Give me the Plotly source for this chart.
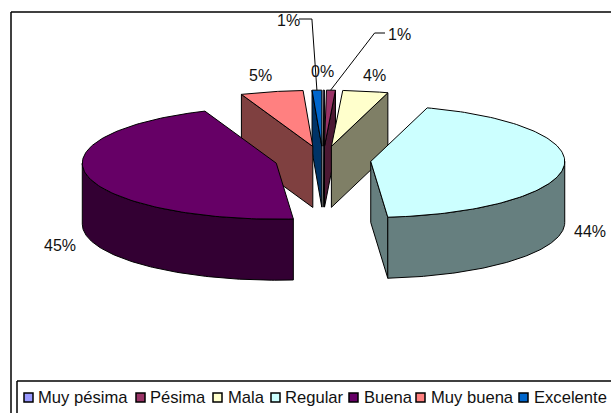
import numpy as np
import plotly.graph_objects as go

# Data
categories = ['Muy pésima', 'Pésima', 'Mala', 'Regular', 'Buena', 'Muy buena', 'Excelente']
shares = [0.1, 0.8, 3.8, 43.9, 45.4, 5.2, 0.8]
colors = ['#9999FF', '#993366', '#FFFFCC', '#CCFFFF', '#660066', '#FF8080', '#0066CC']

# Pie projection, in pixels
CX, CY = 323, 160
RX, RY = 194, 56
DEPTH = 61
EXPLODE = 48

# Label placing, in pixels
label_pos = [(322, 71), (399, 34), (374, 75), (590, 231), (60, 245), (260, 75), (288, 20)]
legend_swatch_x = [24, 136, 213, 271, 349, 416, 519]
legend_text_x = [38, 150, 228, 285, 364, 431, 534]
FONT = dict(family='Liberation Sans, Arial, sans-serif', size=16, color='#111111')
LEGEND_FONT = dict(FONT, size=16.6)


def shade(hex_color):
    r, g, b = (int(hex_color[i:i + 2], 16) for i in (1, 3, 5))
    return f'rgb({r // 2},{g // 2},{b // 2})'


def poly(fig, xs, ys, color):
    fig.add_trace(go.Scatter(x=list(xs), y=list(ys), mode='lines', fill='toself', fillcolor=color,
                             line=dict(color='black', width=1), hoverinfo='skip', showlegend=False))


fig = go.Figure()

# slice angles, clockwise from the top
ends = np.cumsum(shares) / np.sum(shares) * 2 * np.pi
starts = np.concatenate([[0], ends[:-1]])
mids = (starts + ends) / 2
centres_x = CX + EXPLODE * np.sin(mids)
centres_y = CY - EXPLODE * np.cos(mids) * RY / RX

# back slices first
for i in np.argsort(-np.cos(mids)):
    cx, cy = centres_x[i], centres_y[i]
    a1, a2 = starts[i], ends[i]
    dark = shade(colors[i])
    edge_x = lambda a: cx + RX * np.sin(a)
    edge_y = lambda a: cy - RY * np.cos(a)

    # radial walls, only when they face the viewer
    for a, visible in ((a1, np.sin(a1) < 0), (a2, np.sin(a2) > 0)):
        if visible:
            poly(fig, [cx, edge_x(a), edge_x(a), cx, cx],
                 [cy, edge_y(a), edge_y(a) + DEPTH, cy + DEPTH, cy], dark)

    # outer wall, front half only
    lo, hi = max(a1, np.pi / 2), min(a2, 3 * np.pi / 2)
    if hi > lo:
        t = np.linspace(lo, hi, 120)
        xs = np.concatenate([edge_x(t), edge_x(t[::-1]), edge_x(t[:1])])
        ys = np.concatenate([edge_y(t), edge_y(t[::-1]) + DEPTH, edge_y(t[:1])])
        poly(fig, xs, ys, dark)

    # top face
    t = np.linspace(a1, a2, 120)
    poly(fig, np.concatenate([[cx], edge_x(t), [cx]]), np.concatenate([[cy], edge_y(t), [cy]]), colors[i])

# Leader lines for the two smallest labelled slices
for i, elbow_x, text_side in ((6, -5, 11), (1, 44, -14)):
    tx, ty = label_pos[i]
    end_x = centres_x[i] + RX * np.sin(mids[i])
    end_y = centres_y[i] - RY * np.cos(mids[i])
    start_x = tx + text_side
    fig.add_trace(go.Scatter(x=[start_x, end_x + elbow_x, end_x], y=[ty - 1, ty - 1, end_y], mode='lines',
                             line=dict(color='black', width=1), hoverinfo='skip', showlegend=False))

# Percentage labels
for share, (x, y) in zip(shares, label_pos):
    fig.add_annotation(x=x, y=y, text=f'{round(share)}%', showarrow=False, font=FONT, xref='x', yref='y')

# Legend
for name, color, sx, tx in zip(categories, colors, legend_swatch_x, legend_text_x):
    fig.add_shape(type='rect', x0=sx, x1=sx + 9, y0=393, y1=402, fillcolor=color, line=dict(color='black', width=1.5))
    fig.add_annotation(x=tx, y=397, text=name, showarrow=False, xanchor='left', xshift=-2, font=LEGEND_FONT,
                       xref='x', yref='y')

# Chart frame and legend box, both open at the right and bottom
frame = [(11, 414, 11, 12), (11, 12, 612, 12), (17, 414, 17, 381), (17, 381, 612, 381)]
for x0, y0, x1, y1 in frame:
    fig.add_shape(type='line', x0=x0, y0=y0, x1=x1, y1=y1, line=dict(color='black', width=1.5))

fig.update_xaxes(range=[0, 611], visible=False)
fig.update_yaxes(range=[413, 0], visible=False)
fig.update_layout(width=611, height=413, margin=dict(l=0, r=0, t=0, b=0), showlegend=False,
                  plot_bgcolor='white', paper_bgcolor='white')

fig.write_html("out.html", config=dict(displayModeBar=False),
               post_script="document.body.style.margin='0';document.body.style.overflow='hidden';")
